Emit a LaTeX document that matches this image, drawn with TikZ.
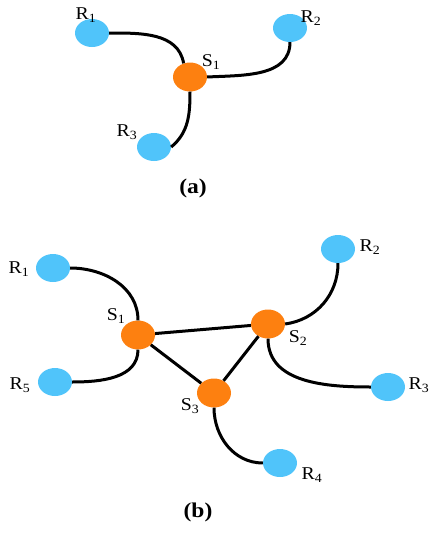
\documentclass[tikz,border=0pt]{standalone}
\usepackage{fontspec}
\setmainfont{Liberation Serif}
\usetikzlibrary{shapes.geometric}
\definecolor{rblue}{RGB}{80,196,250}
\definecolor{sorange}{RGB}{253,128,16}
\tikzset{
  rnode/.style={ellipse,fill=rblue,minimum width=34pt,minimum height=28pt,inner sep=0pt},
  snode/.style={ellipse,fill=sorange,minimum width=34pt,minimum height=29pt,inner sep=0pt},
  lab/.style={inner sep=0pt,font=\fontsize{18}{20}\selectfont,xscale=1.1},
  captext/.style={inner sep=0pt,font=\fontsize{21}{23}\selectfont\bfseries,xscale=1.12},
  link/.style={line width=3pt,black}
}
\begin{document}
\begin{tikzpicture}[x=1pt,y=-1pt]
\useasboundingbox (0,0) rectangle (436,544);
% (a)
\node[rnode] (aR1) at (92,33) {};
\node[rnode] (aR2) at (290,28) {};
\node[snode] (aS1) at (190,77) {};
\node[rnode] (aR3) at (154,147) {};
\node[lab] (laR1) at (86,15) {R\textsubscript{1}};
\node[lab] (laR2) at (311,18) {R\textsubscript{2}};
\node[lab] (laS1) at (211,62) {S\textsubscript{1}};
\node[lab] (laR3) at (127,132) {R\textsubscript{3}};
\node[captext] (capa) at (193,188) {(a)};
\draw[link] (aR1.east) to[out=0,in=100] (aS1.115);
\draw[link] (aS1.east) to[out=3,in=-90] (aR2.south);
\draw[link] (aS1.south) to[out=-90,in=40] (aR3.east);
% (b)
\node[rnode] (bR1) at (53,268) {};
\node[rnode] (bR2) at (338,249) {};
\node[snode] (bS1) at (138,335) {};
\node[snode] (bS2) at (268,324) {};
\node[rnode] (bR5) at (55,382) {};
\node[snode] (bS3) at (214,393) {};
\node[rnode] (bR3) at (388,387) {};
\node[rnode] (bR4) at (280,463) {};
\node[lab] (lbR1) at (19,269) {R\textsubscript{1}};
\node[lab] (lbR2) at (370,247) {R\textsubscript{2}};
\node[lab] (lbS1) at (116,316) {S\textsubscript{1}};
\node[lab] (lbS2) at (298,338) {S\textsubscript{2}};
\node[lab] (lbR5) at (20,385) {R\textsubscript{5}};
\node[lab] (lbS3) at (190,406) {S\textsubscript{3}};
\node[lab] (lbR3) at (419,385) {R\textsubscript{3}};
\node[lab] (lbR4) at (312,475) {R\textsubscript{4}};
\node[captext] (capb) at (198,512) {(b)};
\draw[link] (bR1.east) to[out=0,in=90] (bS1.north);
\draw[link] (bS1.south) to[out=-90,in=0] (bR5.east);
\draw[link] (bS1) -- (bS2);
\draw[link] (bS1) -- (bS3);
\draw[link] (bS2) -- (bS3);
\draw[link] (bS2.east) to[out=8,in=-90] (bR2.south);
\draw[link] (bS2.south) to[out=-90,in=180] (bR3.west);
\draw[link] (bS3.south) to[out=-90,in=180] (bR4.west);
\end{tikzpicture}
\end{document}
